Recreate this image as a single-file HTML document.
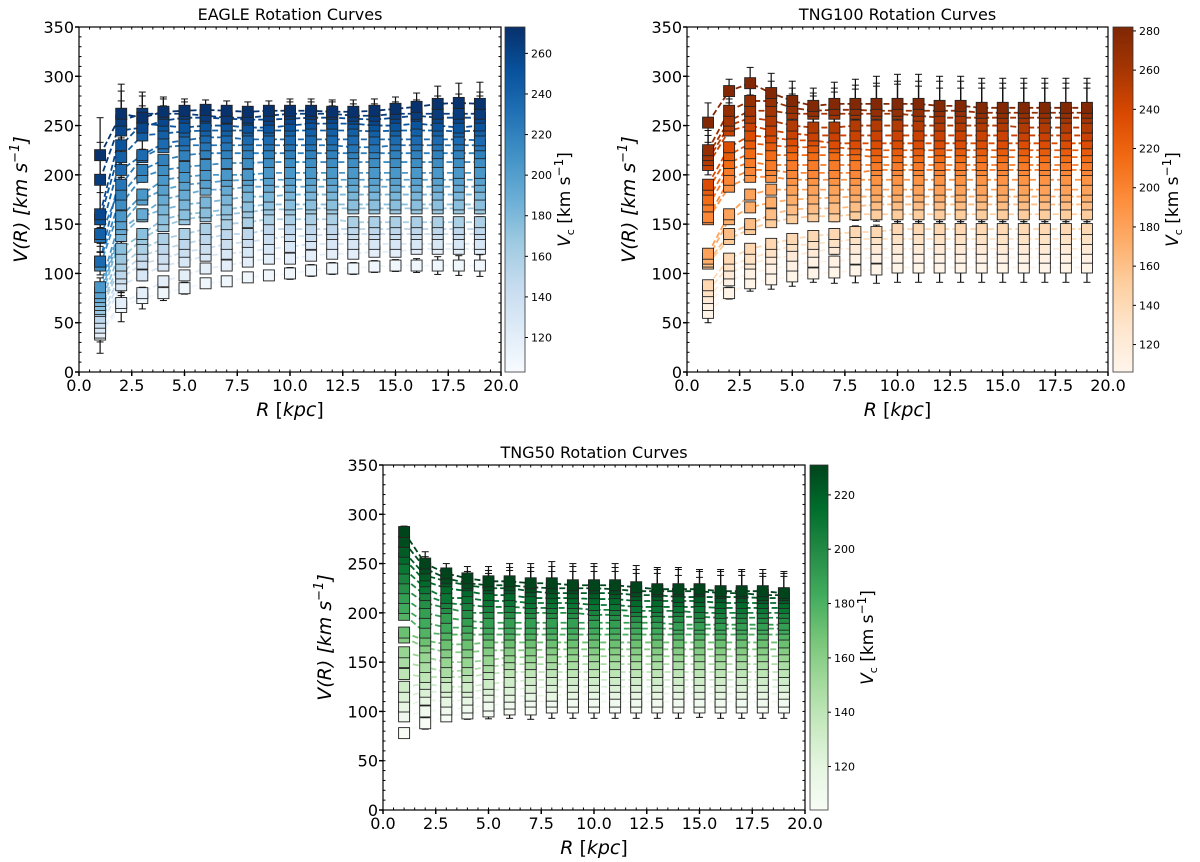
<!DOCTYPE html>
<html><head><meta charset="utf-8"><style>
html,body{margin:0;padding:0;background:#fff;}
svg{display:block;font-family:"DejaVu Sans","Liberation Sans",sans-serif;}
</style></head><body>
<svg id="chart" width="1200" height="862" viewBox="0 0 1200 862" xmlns="http://www.w3.org/2000/svg"></svg>
<script>
// ---- data ----
const radii = [1,2,3,4,5,6,7,8,9,10,11,12,13,14,15,16,17,18,19];
const xTicks = [0,2.5,5,7.5,10,12.5,15,17.5,20];
const yTicks = [0,50,100,150,200,250,300,350];

const eagleVc = [272,265,258,250,242,235,228,220,212,205,198,190,182,175,168,160,150,140,130,120,110];
const eagleV = [
[220,262,258,264,265,266,265,264,265,265,265,264,264,265,267,269,272,273,272],
[195,255,262,262,262,260,258,258,260,262,262,262,260,260,262,262,262,262,262],
[160,245,248,255,258,258,257,256,256,257,258,258,257,256,258,260,258,258,258],
[155,230,252,250,248,250,250,248,248,250,252,252,252,250,250,252,250,248,250],
[140,218,240,242,244,245,245,245,245,245,245,245,245,244,245,245,245,244,245],
[112,205,220,232,235,238,238,236,236,236,236,236,236,236,236,236,236,236,235],
[137,190,218,228,230,230,230,230,230,230,230,230,228,228,230,230,230,230,230],
[112,180,205,215,220,222,222,222,222,222,222,222,222,222,222,222,222,222,222],
[108,170,198,205,208,210,212,212,213,213,213,213,213,213,213,213,213,213,213],
[86,158,180,195,198,200,200,200,202,202,202,202,202,202,202,202,202,202,202],
[80,150,175,185,190,192,194,195,195,195,195,195,195,195,195,195,195,195,195],
[76,145,160,175,180,185,185,188,188,188,188,188,188,188,188,188,188,188,188],
[72,138,158,165,170,172,175,178,178,180,180,180,180,180,180,180,180,180,180],
[68,125,140,155,160,162,165,168,170,170,170,170,170,170,170,170,170,170,170],
[64,115,135,148,155,158,160,162,165,165,166,166,166,166,166,166,166,166,166],
[62,108,125,135,140,145,150,152,155,155,155,155,152,152,152,152,152,152,152],
[55,100,118,125,130,135,140,140,145,145,145,145,145,145,145,145,145,145,145],
[50,95,110,115,122,125,130,132,135,138,138,140,140,140,140,140,140,140,140],
[45,88,98,108,112,118,120,122,125,127,130,130,130,130,130,130,130,130,130],
[40,70,80,92,98,105,108,112,115,115,118,120,120,122,122,125,125,125,125],
[38,66,75,80,85,90,92,96,98,100,103,105,105,107,108,108,108,108,108]
];
const eagleErr = [38,30,22,15,12,10,10,10,10,12,12,12,12,12,12,14,18,20,22];

const tng100Vc = [280,270,262,255,245,235,225,215,205,198,190,180,172,162,152,142,132,122,112,108];
const tng100V = [
[253,285,293,283,275,270,272,272,272,272,272,270,270,268,268,268,268,268,268],
[225,265,275,275,268,265,266,266,265,265,265,265,265,263,263,263,263,263,263],
[220,255,265,265,262,262,262,262,262,262,260,258,258,258,258,258,258,258,258],
[215,250,258,255,250,248,248,250,250,250,250,250,250,250,250,248,248,248,248],
[210,245,250,245,242,240,240,240,240,240,240,240,240,240,240,240,240,240,240],
[190,228,240,238,235,235,232,232,232,232,232,232,232,232,232,232,232,232,232],
[185,220,232,230,228,228,228,226,225,225,225,225,225,225,225,225,225,225,225],
[175,212,222,220,220,220,220,220,218,218,218,218,218,218,218,218,218,218,218],
[168,205,213,210,210,210,210,210,210,210,210,210,210,210,210,210,210,210,210],
[157,195,205,205,202,202,202,202,205,205,205,205,205,205,205,205,205,205,205],
[155,188,198,198,195,195,195,195,195,195,195,195,195,195,195,195,195,195,195],
[120,160,180,185,185,185,185,185,185,185,185,185,185,185,185,185,185,185,185],
[115,155,167,172,175,176,177,178,178,178,178,178,178,178,178,178,178,178,178],
[112,140,150,160,165,166,166,168,170,170,170,170,170,170,170,170,170,170,170],
[110,135,145,152,156,158,158,160,160,160,160,160,160,160,160,160,160,160,160],
[88,115,125,130,135,138,140,142,142,145,145,145,145,145,145,145,145,145,145],
[82,108,115,122,128,130,132,135,135,135,135,135,135,135,135,135,135,135,135],
[75,100,110,115,118,122,125,125,125,125,125,125,125,125,125,125,125,125,125],
[68,93,100,105,108,112,112,115,116,116,116,116,116,116,116,116,116,116,116],
[60,80,90,94,97,100,101,103,104,106,106,106,106,106,106,106,106,106,106]
];
const tng100Err = [20,12,16,20,20,18,22,25,28,30,30,30,30,30,30,30,30,30,30];

const tng50Vc = [235,228,222,216,210,204,198,190,184,178,170,162,155,148,140,132,125,118,110,105];
const tng50V = [
[282,250,240,235,232,232,230,230,228,228,228,226,224,224,224,222,222,222,220],
[272,245,235,230,228,228,226,225,225,225,224,222,222,222,222,220,220,218,218],
[262,238,232,228,225,225,222,220,220,220,220,218,218,216,216,216,216,215,215],
[255,232,225,222,218,218,215,215,215,214,214,212,212,212,212,210,210,210,210],
[245,225,215,215,212,212,210,210,210,208,208,206,206,206,206,205,205,205,205],
[235,218,210,208,206,206,205,205,205,203,203,202,202,202,200,200,200,200,200],
[225,210,205,200,200,200,200,200,200,198,198,196,196,196,196,195,195,195,195],
[215,200,195,192,190,190,190,190,190,190,190,190,190,188,188,188,188,188,188],
[205,190,185,185,184,184,184,184,184,184,184,184,184,184,184,184,184,184,184],
[198,180,178,178,178,178,178,178,178,178,178,178,178,178,178,178,178,178,178],
[180,172,168,168,170,170,170,170,170,170,170,170,170,170,170,170,170,170,170],
[175,165,160,160,162,162,162,163,163,163,163,163,163,163,163,163,163,163,163],
[160,155,150,150,152,155,155,155,156,156,156,156,156,156,156,156,156,156,156],
[150,145,140,142,145,148,148,148,148,148,148,148,148,148,148,148,148,148,148],
[138,135,135,135,138,140,140,140,140,140,140,140,140,140,140,140,140,140,140],
[125,128,125,125,128,130,132,132,132,132,132,132,132,132,132,132,132,132,132],
[115,120,120,120,122,122,124,125,125,125,125,125,125,125,125,125,125,125,125],
[105,112,110,112,115,115,116,116,118,118,118,118,118,118,118,118,118,118,118],
[95,100,102,104,106,108,110,110,110,110,110,110,110,110,110,110,110,110,110],
[78,88,95,98,100,102,102,104,104,104,104,104,104,104,104,104,104,104,104]
];
const tng50Err = [6,12,10,12,15,18,20,22,22,22,22,22,22,22,20,22,22,22,22];

const blues = ['#f7fbff','#deebf7','#c6dbef','#9ecae1','#6baed6','#4292c6','#2171b5','#08519c','#08306b'];
const oranges = ['#fff5eb','#fee6ce','#fdd0a2','#fdae6b','#fd8d3c','#f16913','#d94801','#a63603','#7f2704'];
const greens = ['#f7fcf5','#e5f5e0','#c7e9c0','#a1d99b','#74c476','#41ab5d','#238b45','#006d2c','#00441b'];

// ---- drawing ----
const NS='http://www.w3.org/2000/svg';
const svg=document.getElementById('chart');
function mk(tag,attrs,parent){const e=document.createElementNS(NS,tag);for(const k in attrs)e.setAttribute(k,attrs[k]);(parent||svg).appendChild(e);return e;}
function hex(h){return [1,3,5].map(i=>parseInt(h.substr(i,2),16));}
function cmap(stops,t){t=Math.max(0,Math.min(1,t));const p=t*(stops.length-1);const i=Math.min(stops.length-2,Math.floor(p));const f=p-i;const a=hex(stops[i]),b=hex(stops[i+1]);return 'rgb('+a.map((v,k)=>Math.round(v+(b[k]-v)*f)).join(',')+')';}

function panel(cfg){
  const g=mk('g',{});
  
  
  const X=v=>cfg.x0+(v/20)*(cfg.x1-cfg.x0);
  const Y=v=>cfg.y0-(v/350)*(cfg.y0-cfg.y1);
  const C=v=>cmap(cfg.cmap,(v-cfg.cmin)/(cfg.cmax-cfg.cmin));
  const t=mk('text',{x:(cfg.x0+cfg.x1)/2,y:cfg.y1-7,'text-anchor':'middle','font-size':16},g);
  t.textContent=cfg.title;
  
  
  const ax=mk('g',{stroke:'#000','stroke-width':1},g);
  
  
  mk('rect',{x:cfg.x0,y:cfg.y1,width:cfg.x1-cfg.x0,height:cfg.y0-cfg.y1,fill:'none','stroke-width':1.2},ax);
  for(let v=0;v<=20.001;v+=0.5){const x=X(v);mk('line',{x1:x,x2:x,y1:cfg.y0,y2:cfg.y0-2.5},ax);mk('line',{x1:x,x2:x,y1:cfg.y1,y2:cfg.y1+2.5},ax);}
  for(let v=0;v<=350.001;v+=10){const y=Y(v);mk('line',{x1:cfg.x0,x2:cfg.x0+2.5,y1:y,y2:y},ax);mk('line',{x1:cfg.x1,x2:cfg.x1-2.5,y1:y,y2:y},ax);}
  xTicks.forEach(v=>{const x=X(v);mk('line',{x1:x,x2:x,y1:cfg.y0,y2:cfg.y0+4,'stroke-width':1.5},ax);
    const l=mk('text',{x:x,y:cfg.y0+19,'text-anchor':'middle','font-size':16,stroke:'none'},g);l.textContent=v.toFixed(1);
    
    });
  yTicks.forEach(v=>{const y=Y(v);mk('line',{x1:cfg.x0-4,x2:cfg.x0,y1:y,y2:y,'stroke-width':1.5},ax);
    const l=mk('text',{x:cfg.x0-5,y:y+6,'text-anchor':'end','font-size':16,stroke:'none'},g);l.textContent=v;
    
    });
  const xl=mk('text',{x:(cfg.x0+cfg.x1)/2,y:cfg.y0+44,'text-anchor':'middle','font-size':19,'font-style':'italic'},g);
  xl.innerHTML='R <tspan font-style="normal">[</tspan>kpc<tspan font-style="normal">]</tspan>';
  
  
  const yl=mk('text',{transform:`translate(${cfg.x0-52},${(cfg.y0+cfg.y1)/2}) rotate(-90)`,'text-anchor':'middle','font-size':19,'font-style':'italic'},g);
  yl.innerHTML='V(R) [km s<tspan dy="-8" font-size="13">−1</tspan><tspan dy="8">]</tspan>';
  
  
  const plot=mk('g',{},g);
  
  
  const order=cfg.vc.map((v,i)=>i).sort((a,b)=>cfg.vc[a]-cfg.vc[b]);
  const n=cfg.vc.length;
  order.forEach(i=>{
    const pts=radii.map((r,j)=>X(r)+','+Y(cfg.v[i][j])).join(' ');
    const pl=mk('polyline',{points:pts,fill:'none',stroke:C(cfg.vc[i]),'stroke-width':1.8,'stroke-dasharray':'6,3'},plot);
    
    
  });
  order.forEach(i=>{
    // full error bars on the top curves, short ones elsewhere
    const scale = i<3 ? 1 : (i>=n-1 ? 0.5 : 0.25);
    radii.forEach((r,j)=>{
      const x=X(r),v=cfg.v[i][j],e=cfg.err[j]*scale;
      const wl=mk('line',{x1:x,x2:x,y1:Y(v+e),y2:Y(v-e),stroke:'#111','stroke-width':1.2},plot);
      
      
      mk('line',{x1:x-3.5,x2:x+3.5,y1:Y(v+e),y2:Y(v+e),stroke:'#111','stroke-width':1},plot);
      mk('line',{x1:x-3.5,x2:x+3.5,y1:Y(v-e),y2:Y(v-e),stroke:'#111','stroke-width':1},plot);
    });
  });
  order.forEach(i=>{
    radii.forEach((r,j)=>{
      const sq=mk('rect',{x:X(r)-5.5,y:Y(cfg.v[i][j])-5.5,width:11,height:11,fill:C(cfg.vc[i]),stroke:'#222','stroke-width':0.9},plot);
      
      
    });
  });
  const cb=mk('g',{},g);
  
  
  const gid='grad-'+cfg.name;
  const gr=mk('linearGradient',{id:gid,x1:0,y1:1,x2:0,y2:0},mk('defs',{},cb));
  cfg.cmap.forEach((c,k)=>mk('stop',{offset:k/(cfg.cmap.length-1),'stop-color':c},gr));
  mk('rect',{x:cfg.cbx,y:cfg.y1,width:cfg.cbw,height:cfg.y0-cfg.y1,fill:`url(#${gid})`,stroke:'#333','stroke-width':0.8},cb);
  const CY=v=>cfg.y0-(v-cfg.cmin)/(cfg.cmax-cfg.cmin)*(cfg.y0-cfg.y1);
  cfg.cticks.forEach(v=>{const y=CY(v);mk('line',{x1:cfg.cbx+cfg.cbw,x2:cfg.cbx+cfg.cbw+3,y1:y,y2:y,stroke:'#000'},cb);
    const l=mk('text',{x:cfg.cbx+cfg.cbw+6,y:y+4,'font-size':11},cb);l.textContent=v;
    
    });
  const cl=mk('text',{transform:`translate(${cfg.cbx+cfg.cbw+45},${(cfg.y0+cfg.y1)/2}) rotate(-90)`,'text-anchor':'middle','font-size':17},cb);
  cl.innerHTML='<tspan font-style="italic">V</tspan><tspan dy="4" font-size="11">c</tspan><tspan dy="-4"> [km s</tspan><tspan dy="-7" font-size="12">−1</tspan><tspan dy="7">]</tspan>';
  
  
}

panel({name:'eagle',title:'EAGLE Rotation Curves',x0:79,x1:501,y0:372,y1:27,cbx:505,cbw:20,
  cmap:blues,cmin:103,cmax:273,cticks:[120,140,160,180,200,220,240,260],vc:eagleVc,v:eagleV,err:eagleErr});
panel({name:'tng100',title:'TNG100 Rotation Curves',x0:687,x1:1108,y0:372,y1:27,cbx:1113,cbw:20,
  cmap:oranges,cmin:106,cmax:282,cticks:[120,140,160,180,200,220,240,260,280],vc:tng100Vc,v:tng100V,err:tng100Err});
panel({name:'tng50',title:'TNG50 Rotation Curves',x0:383,x1:805,y0:810,y1:465,cbx:810,cbw:18,
  cmap:greens,cmin:104,cmax:231,cticks:[120,140,160,180,200,220],vc:tng50Vc,v:tng50V,err:tng50Err});
</script>
</body></html>
